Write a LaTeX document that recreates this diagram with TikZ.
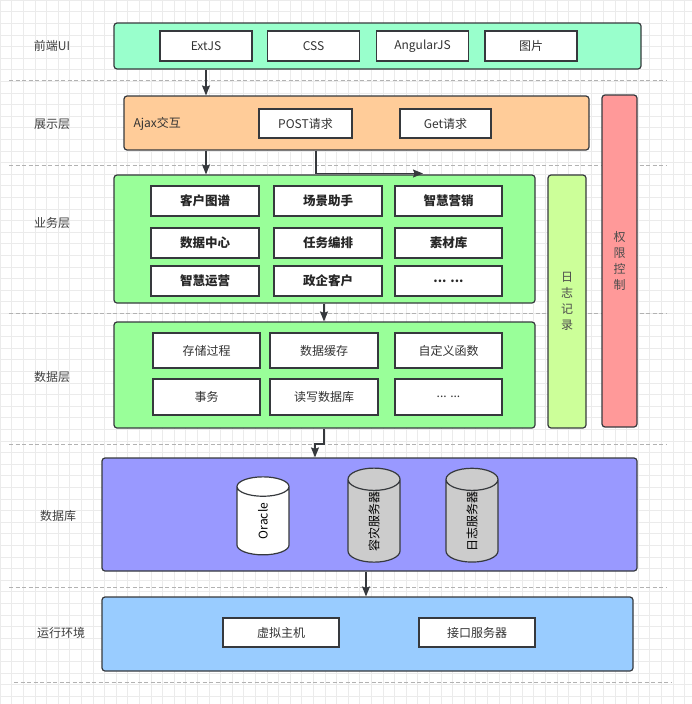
\documentclass[tikz,border=0pt]{standalone}
\usepackage{fontspec}
\setmainfont{Noto Sans CJK SC}
\usetikzlibrary{arrows.meta, calc, shapes.geometric}
\definecolor{edge}{HTML}{36393D}
\definecolor{uifill}{HTML}{99FFCC}
\definecolor{showfill}{HTML}{FFCC99}
\definecolor{bizfill}{HTML}{99FF99}
\definecolor{logfill}{HTML}{CCFF99}
\definecolor{authfill}{HTML}{FF9999}
\definecolor{dbfill}{HTML}{9999FF}
\definecolor{envfill}{HTML}{99CCFF}
\definecolor{diskgray}{HTML}{CCCCCC}
\tikzset{layer/.style = {draw=edge, line width=1.2pt, rounded corners=3pt, inner sep=0pt}}
\tikzset{item/.style = {draw=edge, fill=white, line width=1.2pt, inner sep=0pt, minimum height=30pt,
    font=\fontsize{12}{14}\selectfont, text=black!80}}
\tikzset{bold item/.style = {item, font=\fontsize{12.5}{14}\selectfont\bfseries, text=black!85}}
\tikzset{side/.style = {font=\fontsize{12}{16}\selectfont, text=black!75, align=center}}
\tikzset{sep/.style = {draw=gray!60, line width=0.9pt, dash pattern=on 4pt off 2.5pt}}
\tikzset{flow/.style = {draw=edge, line width=1.2pt, -{Stealth[length=10pt,width=8pt,inset=1.5pt]}}}
\tikzset{store/.style = {cylinder, rotate=90, draw=edge, line width=1.2pt, aspect=2.0,
    minimum width=52pt, minimum height=78pt, inner sep=0pt, font=\fontsize{12}{14}\selectfont}}

\begin{document}
\begin{tikzpicture}[x=1pt, y=-1pt]
\useasboundingbox (0,0) rectangle (692,704);
\fill[white] (0,0) rectangle (692,704);
\draw[black!8, line width=0.5pt, step=11.6pt] (0,0) grid (692,704);

% separators
\foreach \yy in {80, 165, 313, 444, 587}
  \draw[sep] (9,\yy) -- (667,\yy);
\draw[sep] (14,682) -- (672,682);

% layer names
\node[side] (lui)   at (52,46)  {前端UI};
\node[side] (lshow) at (52,124) {展示层};
\node[side] (lbiz)  at (52,223) {业务层};
\node[side] (ldata) at (52,377) {数据层};
\node[side] (ldb)   at (58,516) {数据库};
\node[side] (lenv)  at (61,633) {运行环境};

% front end
\node[layer, fill=uifill, minimum width=527pt, minimum height=46pt] (ui) at (377.5,46) {};
\node[item, minimum width=92pt] (extjs) at (206,46)   {ExtJS};
\node[item, minimum width=92pt] (css)   at (313.5,46) {CSS};
\node[item, minimum width=92pt] (ng)    at (422.5,46) {AngularJS};
\node[item, minimum width=92pt] (pic)   at (531,46)   {图片};

% presentation
\node[layer, fill=showfill, minimum width=465pt, minimum height=54pt] (show) at (356.5,123) {};
\node[side, anchor=west, text=black!80] (ajax) at (130,124) {Ajax交互};
\node[item, minimum width=93pt, minimum height=29pt] (post) at (305.5,123.5) {POST请求};
\node[item, minimum width=91pt, minimum height=29pt] (get)  at (445.5,123.5) {Get请求};

% side columns
\node[layer, fill=authfill, minimum width=35pt, minimum height=332pt] (auth) at (619.5,261) {};
\node[side, text=black!70] (authtext) at (auth) {权\\限\\控\\制};
\node[layer, fill=logfill, minimum width=38pt, minimum height=253pt] (log) at (567,301.5) {};
\node[side, text=black!70] (logtext) at (log) {日\\志\\记\\录};

% business
\node[layer, fill=bizfill, minimum width=421pt, minimum height=128pt] (biz) at (324.5,239) {};
\node[bold item, minimum width=108pt] (b11) at (205,201)   {客户图谱};
\node[bold item, minimum width=108pt] (b12) at (328,201)   {场景助手};
\node[bold item, minimum width=107pt] (b13) at (448.5,201) {智慧营销};
\node[bold item, minimum width=108pt] (b21) at (205,243)   {数据中心};
\node[bold item, minimum width=108pt] (b22) at (328,243)   {任务编排};
\node[bold item, minimum width=107pt] (b23) at (448.5,243) {素材库};
\node[bold item, minimum width=108pt] (b31) at (205,281)   {智慧运营};
\node[bold item, minimum width=108pt] (b32) at (328,281)   {政企客户};
\node[bold item, minimum width=107pt] (b33) at (448.5,281) {... ...};

% data
\node[layer, fill=bizfill, minimum width=421pt, minimum height=106pt] (data) at (324.5,375) {};
\node[item, minimum width=107pt, minimum height=35pt] (d11) at (206.5,350.5) {存储过程};
\node[item, minimum width=108pt, minimum height=35pt] (d12) at (324,350.5)   {数据缓存};
\node[item, minimum width=107pt, minimum height=35pt] (d13) at (448.5,350.5) {自定义函数};
\node[item, minimum width=107pt, minimum height=36pt] (d21) at (206.5,397)   {事务};
\node[item, minimum width=108pt, minimum height=36pt] (d22) at (324,397)     {读写数据库};
\node[item, minimum width=107pt, minimum height=36pt] (d23) at (448.5,397)   {... ...};

% database
\node[layer, fill=dbfill, minimum width=535pt, minimum height=113pt] (db) at (369.5,514.5) {};
\node[store, fill=white]    (oracle) at (263,521) {Oracle};
\node[store, fill=diskgray] (backup) at (374,521) {容灾服务器};
\node[store, fill=diskgray] (logsrv) at (472,521) {日志服务器};

% runtime
\node[layer, fill=envfill, minimum width=531pt, minimum height=74pt] (env) at (367.5,634) {};
\node[item, minimum width=116pt, minimum height=29pt] (vm)  at (281,632.5) {虚拟主机};
\node[item, minimum width=116pt, minimum height=29pt] (api) at (477,632.5) {接口服务器};

% flows
\coordinate (postend) at (423,173.5);
\draw[flow] (206,0 |- ui.south) -- (206,0 |- show.north);
\draw[flow] (206,0 |- show.south) -- (206,0 |- biz.north);
\draw[flow] (316,0 |- show.south) |- (postend);
\draw[flow] (324,0 |- biz.south) -- (324,0 |- data.north);
\draw[flow] (324,0 |- data.south) -- (324,444) -| (315,0 |- db.north);
\draw[flow] (366,0 |- db.south) -- (366,0 |- env.north);
\end{tikzpicture}
\end{document}
